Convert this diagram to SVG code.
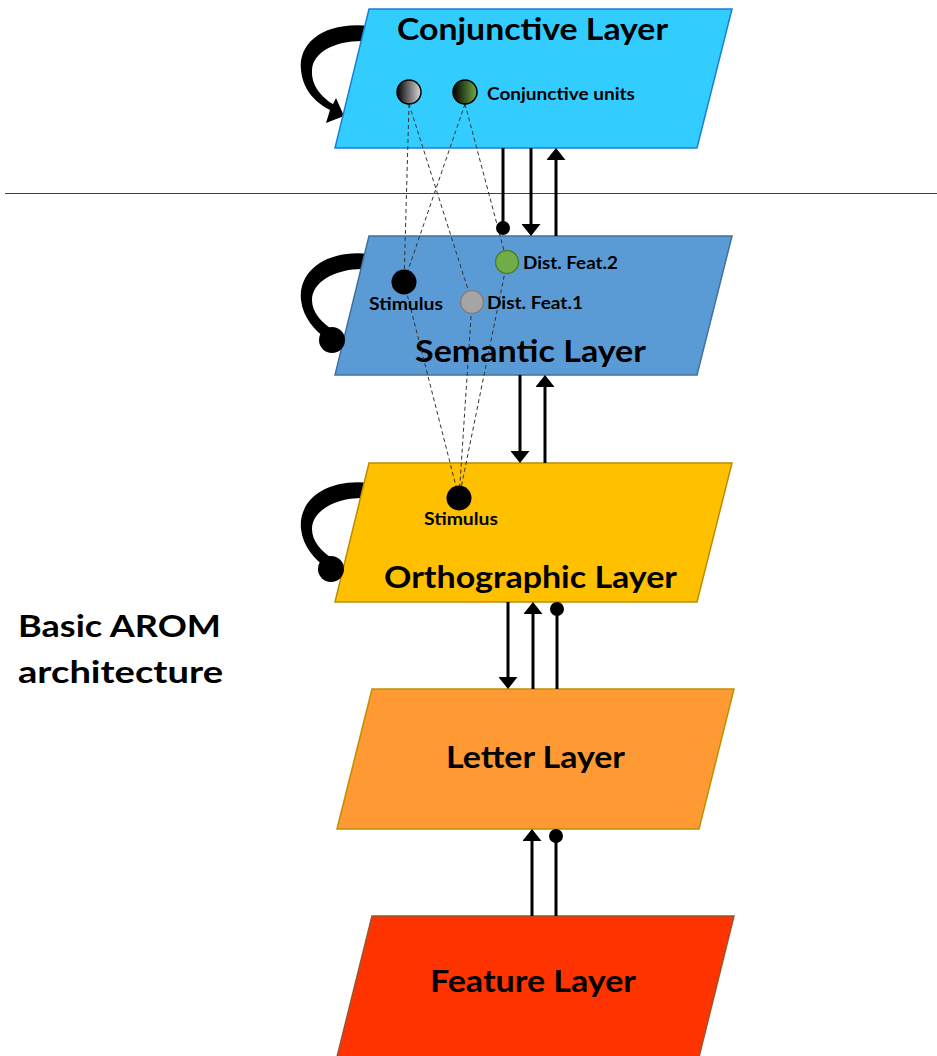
<svg xmlns="http://www.w3.org/2000/svg" width="937" height="1056" viewBox="0 0 937 1056">
<defs>
<style>
.big{font-family:Lato,"Open Sans","Liberation Sans",sans-serif;font-weight:bold;font-size:30px;fill:#000}
.small{font-family:Lato,"Open Sans","Liberation Sans",sans-serif;font-weight:bold;font-size:16.5px;fill:#000}
.conn{stroke:#000;stroke-width:3;fill:none}
.dash{stroke:#333;stroke-width:1;stroke-dasharray:4 3;fill:none}
.loop{fill:#000}
</style>
<linearGradient id="gGray" x1="0" y1="0" x2="1" y2="0">
<stop offset="0" stop-color="#000"/>
<stop offset="1" stop-color="#dcdcdc"/>
</linearGradient>
<linearGradient id="gGreen" x1="0" y1="0" x2="1" y2="0">
<stop offset="0" stop-color="#000"/>
<stop offset="1" stop-color="#70ad47"/>
</linearGradient>
<marker id="arr" viewBox="0 0 12 19" refX="2" refY="9.5" markerWidth="12" markerHeight="19" markerUnits="userSpaceOnUse" orient="auto">
<path d="M0,0 L12,9.5 L0,19 Z" fill="#000"/>
</marker>
<marker id="dot" viewBox="0 0 14 14" refX="7" refY="7" markerWidth="14" markerHeight="14" markerUnits="userSpaceOnUse" orient="auto">
<circle cx="7" cy="7" r="7" fill="#000"/>
</marker>
</defs>
<rect width="937" height="1056" fill="#fff"/>

<line x1="5" y1="193.5" x2="937" y2="193.5" stroke="#404040" stroke-width="1"/>

<g id="conjunctive-layer">
<path class="loop" d="M370,26 C325,21 298,42 301,70 C303,92 318,104 330,110 L326,123 L344,116 L336,98 L333,104 C321,97 311,85 312,70 C313,52 335,40 366,41 Z"/>
<polygon points="369,9 732,9 697,148 335,148" fill="#33ccff" stroke="#1a7fd6" stroke-width="1.5"/>
<text class="big" x="532.5" y="40" text-anchor="middle" textLength="271" lengthAdjust="spacingAndGlyphs">Conjunctive Layer</text>
</g>

<g id="semantic-layer">
<path class="loop" d="M370,254 C325,249 298,272 301,300 C303,318 315,330 325,338 L334,331 C321,322 312,312 312,300 C312,282 335,268 366,269 Z"/>
<polygon points="369,236 732,236 697,375 335,375" fill="#5b9bd5" stroke="#41719c" stroke-width="1.5"/>
<circle class="loop" cx="332" cy="340" r="13"/>
<text class="big" x="530.5" y="362" text-anchor="middle" textLength="231" lengthAdjust="spacingAndGlyphs">Semantic Layer</text>
</g>

<g id="orthographic-layer">
<path class="loop" d="M370,483 C325,478 298,501 301,529 C303,547 315,559 325,567 L334,560 C321,551 312,541 312,529 C312,511 335,497 366,498 Z"/>
<polygon points="369,463 732,463 697,602 335,602" fill="#ffc000" stroke="#bc8c00" stroke-width="1.5"/>
<circle class="loop" cx="331" cy="569" r="13"/>
<text class="big" x="530.5" y="588" text-anchor="middle" textLength="293" lengthAdjust="spacingAndGlyphs">Orthographic Layer</text>
</g>

<g id="letter-layer">
<polygon points="372,689 734,689 699,829 337,829" fill="#ff9933" stroke="#bf9000" stroke-width="1.5"/>
<text class="big" x="535.5" y="768" text-anchor="middle" textLength="179" lengthAdjust="spacingAndGlyphs">Letter Layer</text>
</g>

<g id="feature-layer">
<polygon points="372,916 734,916 699,1057 337,1057" fill="#ff3300" stroke="#a0522d" stroke-width="1.5"/>
<text class="big" x="533" y="992" text-anchor="middle" textLength="206" lengthAdjust="spacingAndGlyphs">Feature Layer</text>
</g>

<g id="title">
<text class="big" x="18" y="637" textLength="203" lengthAdjust="spacingAndGlyphs">Basic AROM</text>
<text class="big" x="18" y="683" textLength="205" lengthAdjust="spacingAndGlyphs">architecture</text>
</g>

<g id="connectors">
<line class="dash" x1="409" y1="104" x2="404" y2="282"/>
<line class="dash" x1="409" y1="104" x2="472" y2="302"/>
<line class="dash" x1="465" y1="104" x2="404" y2="282"/>
<line class="dash" x1="465" y1="104" x2="507" y2="262"/>
<line class="dash" x1="404" y1="282" x2="459" y2="498"/>
<line class="dash" x1="472" y1="302" x2="459" y2="498"/>
<line class="dash" x1="507" y1="262" x2="459" y2="498"/>

<line class="conn" x1="503" y1="148" x2="503" y2="228" marker-end="url(#dot)"/>
<line class="conn" x1="531" y1="148" x2="531" y2="226" marker-end="url(#arr)"/>
<line class="conn" x1="556" y1="236" x2="556" y2="158" marker-end="url(#arr)"/>

<line class="conn" x1="520" y1="375" x2="520" y2="453" marker-end="url(#arr)"/>
<line class="conn" x1="545" y1="463" x2="545" y2="385" marker-end="url(#arr)"/>

<line class="conn" x1="508" y1="602" x2="508" y2="679" marker-end="url(#arr)"/>
<line class="conn" x1="533" y1="689" x2="533" y2="612" marker-end="url(#arr)"/>
<line class="conn" x1="557" y1="689" x2="557" y2="609" marker-end="url(#dot)"/>

<line class="conn" x1="532" y1="916" x2="532" y2="839" marker-end="url(#arr)"/>
<line class="conn" x1="556" y1="916" x2="556" y2="836" marker-end="url(#dot)"/>
</g>

<g id="conj-unit-1">
<circle cx="409" cy="92" r="12" fill="url(#gGray)" stroke="#000" stroke-width="1.5"/>
</g>
<g id="conj-unit-2">
<circle cx="465" cy="92" r="12" fill="url(#gGreen)" stroke="#000" stroke-width="1.5"/>
<text class="small" x="487" y="100" textLength="148" lengthAdjust="spacingAndGlyphs">Conjunctive units</text>
</g>

<g id="sem-stimulus">
<circle cx="404" cy="282" r="12.5" fill="#000"/>
<text class="small" x="369" y="310" textLength="74" lengthAdjust="spacingAndGlyphs">Stimulus</text>
</g>
<g id="sem-dist-feat-2">
<circle cx="507" cy="262" r="11.5" fill="#70ad47" stroke="#507e32" stroke-width="1.5"/>
<text class="small" x="523" y="269" textLength="95" lengthAdjust="spacingAndGlyphs">Dist. Feat.2</text>
</g>
<g id="sem-dist-feat-1">
<circle cx="472" cy="302" r="11.5" fill="#a5a5a5" stroke="#808080" stroke-width="1.5"/>
<text class="small" x="487" y="309" textLength="96" lengthAdjust="spacingAndGlyphs">Dist. Feat.1</text>
</g>

<g id="orth-stimulus">
<circle cx="459" cy="498" r="12.5" fill="#000"/>
<text class="small" x="424" y="525" textLength="74" lengthAdjust="spacingAndGlyphs">Stimulus</text>
</g>
</svg>
